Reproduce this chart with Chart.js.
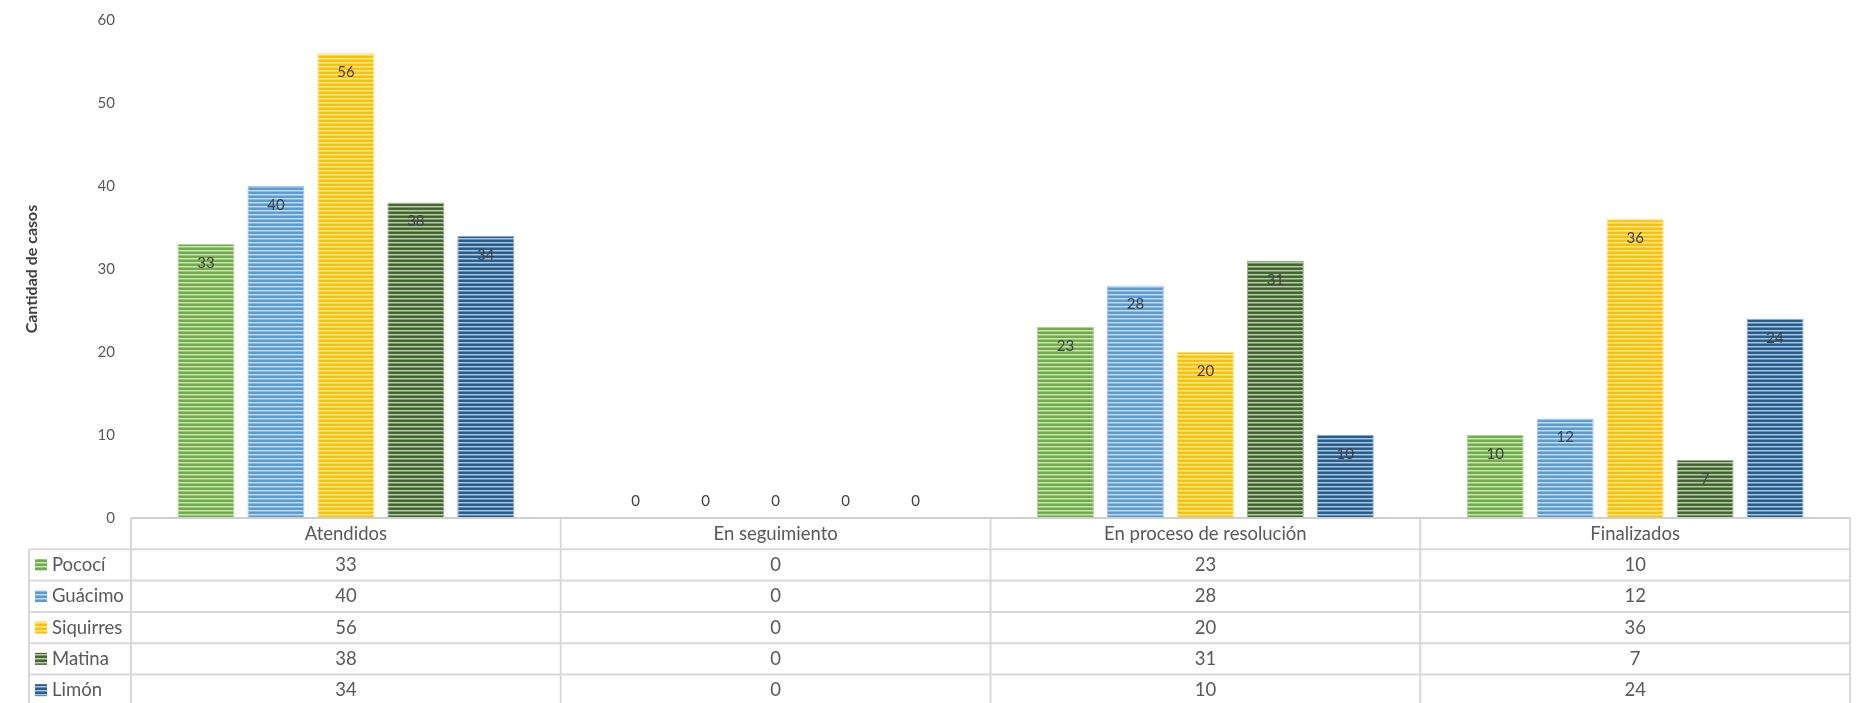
<!DOCTYPE html>
<html>
<head>
<meta charset="utf-8">
<script src="https://cdn.jsdelivr.net/npm/chart.js@4.4.0/dist/chart.umd.min.js"></script>
<style>
html, body { margin: 0; padding: 0; background: #fff; }
</style>
</head>
<body>
<canvas id="myChart" width="1865" height="703"></canvas>
<script>
const categorias = ['Atendidos', 'En seguimiento', 'En proceso de resolución', 'Finalizados'];
const cantones = ['Pococí', 'Guácimo', 'Siquirres', 'Matina', 'Limón'];
const pococi = [33, 0, 23, 10];
const guacimo = [40, 0, 28, 12];
const siquirres = [56, 0, 20, 36];
const matina = [38, 0, 31, 7];
const limon = [34, 0, 10, 24];
const colores = ['#70AD47', '#5B9BD5', '#FFC000', '#43682B', '#255E91'];
const yTicks = [0, 10, 20, 30, 40, 50, 60];

Chart.defaults.font.family = 'Lato';

const ctx = document.getElementById('myChart').getContext('2d');

function mezcla(hex, t) {
    const n = parseInt(hex.slice(1), 16);
    const r = (n >> 16) & 255, g = (n >> 8) & 255, b = n & 255;
    const f = c => Math.round(c + (255 - c) * t);
    return 'rgb(' + f(r) + ', ' + f(g) + ', ' + f(b) + ')';
}

// rayas horizontales tipo Excel
function rayas(hex) {
    const c = document.createElement('canvas');
    c.width = 4;
    c.height = 4;
    const g = c.getContext('2d');
    g.fillStyle = hex;
    g.fillRect(0, 0, 4, 4);
    g.fillStyle = mezcla(hex, 0.65);
    g.fillRect(0, 2, 4, 1);
    g.fillStyle = mezcla(hex, 0.3);
    g.fillRect(0, 3, 4, 1);
    return ctx.createPattern(c, 'repeat');
}

const series = [pococi, guacimo, siquirres, matina, limon];

const etiquetas = {
    id: 'etiquetas',
    afterDatasetsDraw(chart) {
        const c = chart.ctx;
        c.save();
        c.font = '15px Lato';
        c.fillStyle = '#404040';
        c.textAlign = 'center';
        c.textBaseline = 'middle';
        chart.data.datasets.forEach((ds, i) => {
            const meta = chart.getDatasetMeta(i);
            meta.data.forEach((bar, j) => {
                const v = ds.data[j];
                const y = v > 0 ? bar.y + 19 : bar.y - 17;
                c.fillText(String(v), bar.x, y);
            });
        });
        c.restore();
    }
};

const tabla = {
    id: 'tabla',
    afterDraw(chart) {
        const c = chart.ctx;
        const area = chart.chartArea;
        const x = chart.scales.x;
        const n = chart.data.labels.length;
        const filas = chart.data.datasets.length;
        const rowH = 31.3;
        const top = area.bottom;
        const bottom = top + rowH * (filas + 1);
        const legendLeft = 29;
        const half = (x.getPixelForValue(1) - x.getPixelForValue(0)) / 2;

        c.save();
        c.strokeStyle = '#d9d9d9';
        c.lineWidth = 2;
        c.beginPath();
        for (let r = 1; r <= filas; r++) {
            const y = top + rowH * r;
            c.moveTo(legendLeft, y);
            c.lineTo(area.right, y);
        }
        c.moveTo(legendLeft, top + rowH);
        c.lineTo(legendLeft, bottom);
        for (let i = 0; i <= n; i++) {
            const xx = i < n ? x.getPixelForValue(i) - half : x.getPixelForValue(n - 1) + half;
            c.moveTo(xx, top);
            c.lineTo(xx, bottom);
        }
        c.stroke();

        // linea del eje
        c.strokeStyle = '#d0d0d0';
        c.beginPath();
        c.moveTo(area.left, top);
        c.lineTo(area.right, top);
        c.stroke();

        c.font = '18.5px Lato';
        c.fillStyle = '#595959';
        c.textAlign = 'center';
        c.textBaseline = 'middle';
        chart.data.labels.forEach((lab, i) => {
            c.fillText(lab, x.getPixelForValue(i), top + rowH / 2);
        });
        chart.data.datasets.forEach((ds, r) => {
            const yc = top + rowH * (r + 1.5);
            c.textAlign = 'center';
            c.fillStyle = '#595959';
            ds.data.forEach((v, i) => {
                c.fillText(String(v), x.getPixelForValue(i), yc);
            });
            c.fillStyle = ds.backgroundColor;
            c.fillRect(35, yc - 6, 12, 12);
            c.fillStyle = '#595959';
            c.textAlign = 'left';
            c.fillText(ds.label, 52, yc);
        });
        c.restore();
    }
};

const myChart = new Chart(ctx, {
    type: 'bar',
    data: {
        labels: categorias,
        datasets: cantones.map((nombre, i) => ({
            label: nombre,
            data: series[i],
            backgroundColor: rayas(colores[i]),
            borderColor: mezcla(colores[i], 0.45),
            borderWidth: { left: 1, right: 1, top: 1, bottom: 0 },
            categoryPercentage: 0.814,
            barPercentage: 0.814
        }))
    },
    options: {
        responsive: false,
        animation: false,
        devicePixelRatio: 1,
        layout: {
            padding: { top: 20, bottom: 185, right: 15, left: 0 }
        },
        plugins: {
            legend: { display: false },
            tooltip: { enabled: false }
        },
        scales: {
            x: {
                grid: { display: false },
                border: { display: false },
                ticks: { display: false },
                afterFit(scale) {
                    scale.height = 0;
                }
            },
            y: {
                min: yTicks[0],
                max: yTicks[yTicks.length - 1],
                grid: { display: false, drawTicks: true, tickLength: 12 },
                border: { display: false },
                ticks: {
                    stepSize: yTicks[1] - yTicks[0],
                    color: '#595959',
                    font: { size: 15 },
                    padding: 4
                },
                title: {
                    display: true,
                    text: 'Cantidad de casos',
                    color: '#404040',
                    font: { size: 16, weight: 'bold' },
                    padding: { top: 22, bottom: 0 }
                },
                afterFit(scale) {
                    scale.width = 131;
                }
            }
        }
    },
    plugins: [etiquetas, tabla]
});
</script>
</body>
</html>
